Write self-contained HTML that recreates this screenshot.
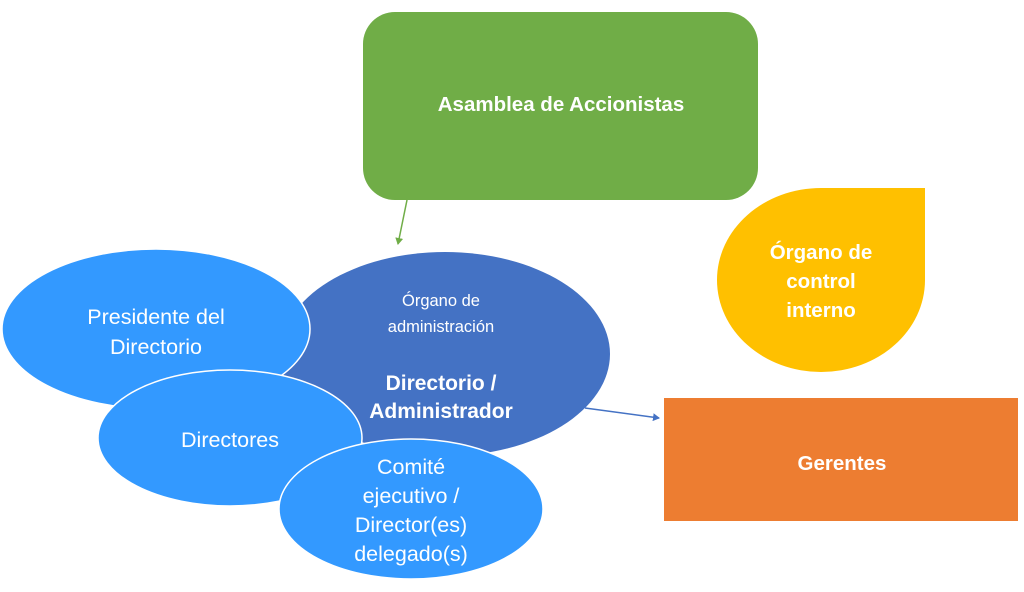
<!DOCTYPE html>
<html><head><meta charset="utf-8"><style>
html,body{margin:0;padding:0;background:#fff;}
svg text{font-family:"Liberation Sans",sans-serif;fill:#fff;text-anchor:middle;}
</style></head><body>
<svg width="1024" height="587" viewBox="0 0 1024 587" xmlns="http://www.w3.org/2000/svg">
<defs>
<marker id="ag" markerWidth="8" markerHeight="8" refX="6" refY="4" orient="auto" markerUnits="userSpaceOnUse"><path d="M0,0 L7,4 L0,8 z" fill="#70AD47"/></marker>
<marker id="ab" markerWidth="8" markerHeight="8" refX="6" refY="4" orient="auto" markerUnits="userSpaceOnUse"><path d="M0,0 L7,4 L0,8 z" fill="#4472C4"/></marker>
</defs>
<rect x="363" y="12" width="395" height="188" rx="32" fill="#70AD47"/>
<text x="561" y="111" font-size="20.5" font-weight="bold">Asamblea de Accionistas</text>
<line x1="407" y1="200" x2="398" y2="244" stroke="#70AD47" stroke-width="1.5" marker-end="url(#ag)"/>
<path d="M717,280 A104,92 0 1 0 925,280 L925,188 L821,188 A104,92 0 0 0 717,280 z" fill="#FFC000"/>
<text x="821" y="259" font-size="20.5" font-weight="bold">Órgano de</text>
<text x="821" y="288" font-size="20.5" font-weight="bold">control</text>
<text x="821" y="317" font-size="20.5" font-weight="bold">interno</text>
<rect x="664" y="398" width="354" height="123" fill="#ED7D31"/>
<text x="842" y="470" font-size="20.5" font-weight="bold">Gerentes</text>
<ellipse cx="445" cy="354" rx="165" ry="102" fill="#4472C4"/>
<line x1="585" y1="408" x2="659" y2="418" stroke="#4472C4" stroke-width="1.5" marker-end="url(#ab)"/>
<text x="441" y="306" font-size="16.5">Órgano de</text>
<text x="441" y="332" font-size="16.5">administración</text>
<text x="441" y="390" font-size="21" font-weight="bold">Directorio /</text>
<text x="441" y="418" font-size="21" font-weight="bold">Administrador</text>
<ellipse cx="156" cy="329" rx="154" ry="80" fill="#3399FF" stroke="#fff" stroke-width="1.5"/>
<text x="156" y="324" font-size="21.5">Presidente del</text>
<text x="156" y="354" font-size="21.5">Directorio</text>
<ellipse cx="230" cy="438" rx="132" ry="68" fill="#3399FF" stroke="#fff" stroke-width="1.5"/>
<text x="230" y="447" font-size="21.5">Directores</text>
<ellipse cx="411" cy="509" rx="132" ry="70" fill="#3399FF" stroke="#fff" stroke-width="1.5"/>
<text x="411" y="474" font-size="21.5">Comité</text>
<text x="411" y="503" font-size="21.5">ejecutivo /</text>
<text x="411" y="532" font-size="21.5">Director(es)</text>
<text x="411" y="561" font-size="21.5">delegado(s)</text>
</svg>
</body></html>
